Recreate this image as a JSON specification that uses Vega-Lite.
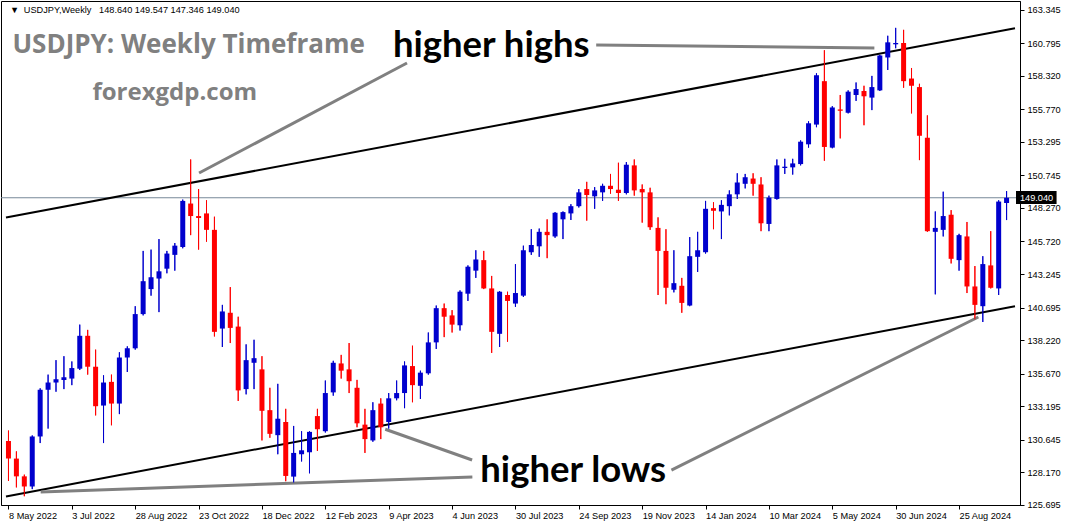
{
"$schema": "https://vega.github.io/schema/vega-lite/v6.json",
"width": 1019, "height": 504,
"autosize": {"type": "none"},
"padding": {"left": 1, "top": 1, "right": 45, "bottom": 23},
"background": "#ffffff",
"config": {
  "view": {"stroke": "#000000", "strokeWidth": 1},
  "axis": {"domainColor": "#000000", "tickColor": "#000000", "labelColor": "#000000", "labelFont": "Liberation Sans", "labelFontSize": 9.2, "grid": false, "tickSize": 4}
},
"resolve": {"axis": {"x": "independent", "y": "independent"}},
"datasets": {
  "candles": [
{"i":0,"o":130.56,"h":131.35,"l":127.52,"c":129.22},
{"i":1,"o":129.22,"h":129.77,"l":127.03,"c":127.87},
{"i":2,"o":127.87,"h":128.0,"l":126.36,"c":127.1},
{"i":3,"o":127.1,"h":130.98,"l":126.9,"c":130.9},
{"i":4,"o":130.9,"h":134.56,"l":130.4,"c":134.45},
{"i":5,"o":134.45,"h":135.6,"l":131.5,"c":135.0},
{"i":6,"o":135.0,"h":136.7,"l":134.3,"c":135.25},
{"i":7,"o":135.2,"h":137.0,"l":134.5,"c":135.4},
{"i":8,"o":135.3,"h":136.6,"l":134.8,"c":136.1},
{"i":9,"o":136.05,"h":139.4,"l":135.95,"c":138.55},
{"i":10,"o":138.55,"h":139.0,"l":135.6,"c":136.2},
{"i":11,"o":136.2,"h":137.5,"l":132.5,"c":133.2},
{"i":12,"o":133.25,"h":135.55,"l":130.4,"c":135.0},
{"i":13,"o":135.05,"h":135.6,"l":131.75,"c":133.4},
{"i":14,"o":133.4,"h":137.3,"l":132.6,"c":136.9},
{"i":15,"o":136.9,"h":137.75,"l":135.8,"c":137.6},
{"i":16,"o":137.6,"h":140.8,"l":137.5,"c":140.2},
{"i":17,"o":140.2,"h":145.0,"l":140.1,"c":142.7},
{"i":18,"o":142.1,"h":145.1,"l":141.6,"c":143.0},
{"i":19,"o":142.9,"h":145.9,"l":140.35,"c":143.45},
{"i":20,"o":143.65,"h":145.0,"l":143.3,"c":144.8},
{"i":21,"o":144.7,"h":145.6,"l":143.5,"c":145.4},
{"i":22,"o":145.3,"h":148.9,"l":145.2,"c":148.8},
{"i":23,"o":148.6,"h":151.95,"l":146.2,"c":147.65},
{"i":24,"o":147.65,"h":149.7,"l":145.1,"c":147.5},
{"i":25,"o":147.85,"h":148.85,"l":145.7,"c":146.6},
{"i":26,"o":146.6,"h":147.6,"l":138.5,"c":138.85},
{"i":27,"o":139.1,"h":140.9,"l":137.7,"c":140.4},
{"i":28,"o":140.3,"h":142.25,"l":138.0,"c":139.15},
{"i":29,"o":139.25,"h":140.0,"l":133.6,"c":134.4},
{"i":30,"o":134.5,"h":137.9,"l":134.1,"c":136.7},
{"i":31,"o":136.5,"h":138.25,"l":134.5,"c":136.85},
{"i":32,"o":136.0,"h":137.0,"l":130.6,"c":132.85},
{"i":33,"o":132.9,"h":134.6,"l":130.8,"c":131.1},
{"i":34,"o":131.0,"h":134.9,"l":129.55,"c":132.25},
{"i":35,"o":132.0,"h":133.0,"l":127.5,"c":127.9},
{"i":36,"o":127.85,"h":131.7,"l":127.4,"c":129.65},
{"i":37,"o":129.55,"h":131.3,"l":129.0,"c":129.85},
{"i":38,"o":129.7,"h":131.3,"l":128.1,"c":131.25},
{"i":39,"o":132.45,"h":133.0,"l":129.8,"c":131.45},
{"i":40,"o":131.3,"h":135.15,"l":131.2,"c":134.2},
{"i":41,"o":134.25,"h":136.65,"l":134.0,"c":136.5},
{"i":42,"o":136.45,"h":137.1,"l":135.3,"c":135.9},
{"i":43,"o":136.0,"h":138.0,"l":134.2,"c":135.1},
{"i":44,"o":134.6,"h":135.2,"l":131.6,"c":131.9},
{"i":45,"o":131.8,"h":133.0,"l":129.65,"c":130.7},
{"i":46,"o":130.6,"h":133.5,"l":130.5,"c":132.9},
{"i":47,"o":133.4,"h":133.8,"l":130.7,"c":131.6},
{"i":48,"o":132.0,"h":134.2,"l":131.5,"c":133.8},
{"i":49,"o":133.8,"h":135.15,"l":133.65,"c":134.2},
{"i":50,"o":134.2,"h":136.6,"l":133.05,"c":136.3},
{"i":51,"o":136.25,"h":137.8,"l":133.5,"c":134.8},
{"i":52,"o":134.75,"h":135.9,"l":133.75,"c":135.75},
{"i":53,"o":135.7,"h":138.8,"l":135.6,"c":138.05},
{"i":54,"o":138.05,"h":140.85,"l":137.55,"c":140.65},
{"i":55,"o":140.65,"h":141.0,"l":138.45,"c":140.0},
{"i":56,"o":140.1,"h":140.5,"l":138.8,"c":139.4},
{"i":57,"o":139.35,"h":142.0,"l":138.95,"c":141.9},
{"i":58,"o":141.75,"h":143.9,"l":141.2,"c":143.8},
{"i":59,"o":143.5,"h":145.05,"l":142.95,"c":144.35},
{"i":60,"o":144.3,"h":145.0,"l":142.1,"c":142.15},
{"i":61,"o":142.15,"h":143.1,"l":137.25,"c":138.85},
{"i":62,"o":138.7,"h":141.95,"l":137.7,"c":141.9},
{"i":63,"o":141.65,"h":141.9,"l":138.1,"c":141.2},
{"i":64,"o":141.0,"h":144.0,"l":140.75,"c":141.8},
{"i":65,"o":141.6,"h":145.4,"l":141.5,"c":145.05},
{"i":66,"o":144.9,"h":146.65,"l":144.7,"c":145.45},
{"i":67,"o":145.35,"h":146.7,"l":144.55,"c":146.45},
{"i":68,"o":146.45,"h":147.4,"l":144.45,"c":146.2},
{"i":69,"o":146.1,"h":147.95,"l":146.0,"c":147.9},
{"i":70,"o":147.4,"h":148.0,"l":145.9,"c":147.95},
{"i":71,"o":147.85,"h":148.55,"l":147.35,"c":148.4},
{"i":72,"o":148.4,"h":149.7,"l":148.3,"c":149.45},
{"i":73,"o":149.7,"h":150.25,"l":147.3,"c":149.25},
{"i":74,"o":149.15,"h":149.85,"l":148.2,"c":149.6},
{"i":75,"o":149.45,"h":150.1,"l":148.8,"c":149.95},
{"i":76,"o":149.95,"h":150.85,"l":149.35,"c":149.7},
{"i":77,"o":149.65,"h":151.7,"l":148.8,"c":149.4},
{"i":78,"o":149.4,"h":151.75,"l":149.3,"c":151.55},
{"i":79,"o":151.5,"h":151.95,"l":149.2,"c":149.6},
{"i":80,"o":149.7,"h":150.05,"l":147.15,"c":149.45},
{"i":81,"o":149.45,"h":149.8,"l":146.6,"c":146.8},
{"i":82,"o":146.75,"h":147.55,"l":141.65,"c":145.0},
{"i":83,"o":145.0,"h":146.65,"l":140.95,"c":142.2},
{"i":84,"o":142.05,"h":145.05,"l":141.85,"c":142.55},
{"i":85,"o":142.35,"h":142.95,"l":140.3,"c":141.05},
{"i":86,"o":140.85,"h":146.05,"l":140.8,"c":144.6},
{"i":87,"o":144.55,"h":146.45,"l":143.4,"c":145.05},
{"i":88,"o":144.9,"h":148.8,"l":144.8,"c":148.2},
{"i":89,"o":148.25,"h":148.7,"l":146.65,"c":148.05},
{"i":90,"o":148.0,"h":148.85,"l":145.9,"c":148.5},
{"i":91,"o":148.4,"h":149.6,"l":147.7,"c":149.3},
{"i":92,"o":149.3,"h":150.9,"l":148.95,"c":150.2},
{"i":93,"o":150.1,"h":150.85,"l":149.75,"c":150.6},
{"i":94,"o":150.5,"h":150.9,"l":149.2,"c":150.1},
{"i":95,"o":150.05,"h":150.6,"l":146.5,"c":147.1},
{"i":96,"o":147.05,"h":149.2,"l":146.5,"c":149.05},
{"i":97,"o":148.95,"h":151.95,"l":148.9,"c":151.5},
{"i":98,"o":151.3,"h":152.0,"l":150.85,"c":151.4},
{"i":99,"o":151.35,"h":152.0,"l":150.8,"c":151.65},
{"i":100,"o":151.6,"h":153.4,"l":151.5,"c":153.3},
{"i":101,"o":153.1,"h":154.85,"l":152.85,"c":154.7},
{"i":102,"o":154.6,"h":158.5,"l":154.4,"c":158.35},
{"i":103,"o":157.9,"h":160.25,"l":151.85,"c":152.9},
{"i":104,"o":152.85,"h":156.0,"l":152.8,"c":155.9},
{"i":105,"o":155.75,"h":156.85,"l":153.55,"c":155.65},
{"i":106,"o":155.5,"h":157.2,"l":155.45,"c":157.1},
{"i":107,"o":156.85,"h":157.8,"l":156.4,"c":157.3},
{"i":108,"o":157.15,"h":157.55,"l":154.55,"c":156.75},
{"i":109,"o":156.65,"h":158.3,"l":155.7,"c":157.45},
{"i":110,"o":157.2,"h":159.9,"l":157.15,"c":159.85},
{"i":111,"o":159.7,"h":161.35,"l":158.75,"c":160.85},
{"i":112,"o":160.7,"h":161.95,"l":160.4,"c":160.8},
{"i":113,"o":160.8,"h":161.8,"l":157.4,"c":157.9},
{"i":114,"o":158.1,"h":158.9,"l":155.45,"c":157.55},
{"i":115,"o":157.45,"h":157.7,"l":151.9,"c":153.75},
{"i":116,"o":153.6,"h":155.3,"l":146.45,"c":146.5},
{"i":117,"o":146.45,"h":148.0,"l":141.7,"c":146.75},
{"i":118,"o":146.6,"h":149.5,"l":146.1,"c":147.65},
{"i":119,"o":147.75,"h":148.1,"l":144.05,"c":144.4},
{"i":120,"o":144.3,"h":146.3,"l":143.5,"c":146.2},
{"i":121,"o":146.1,"h":147.2,"l":141.8,"c":142.3},
{"i":122,"o":142.3,"h":143.85,"l":139.8,"c":140.9},
{"i":123,"o":140.8,"h":144.6,"l":139.6,"c":144.0},
{"i":124,"o":143.9,"h":146.5,"l":142.15,"c":142.2},
{"i":125,"o":142.15,"h":148.85,"l":141.65,"c":148.75},
{"i":126,"o":148.64,"h":149.547,"l":147.346,"c":149.04}
  ],
  "channels": [
    {"x": -0.3125, "y": 147.54, "x2": 127.0625, "y2": 161.916},
    {"x": -0.3125, "y": 126.339, "x2": 127.0625, "y2": 140.80}
  ],
  "pointers": [
    {"x": 74.19, "y": 160.647, "x2": 109.31, "y2": 160.42},
    {"x": 24.06, "y": 150.92, "x2": 50.31, "y2": 159.28},
    {"x": 47.56, "y": 131.45, "x2": 58.53, "y2": 129.11},
    {"x": 4.06, "y": 126.68, "x2": 58.56, "y2": 127.82},
    {"x": 83.69, "y": 128.35, "x2": 122.44, "y2": 139.98}
  ]
},
"layer": [
  {
    "data": {"name": "candles"},
    "mark": {"type": "rule", "strokeWidth": 1},
    "encoding": {
      "x": {"field": "i", "type": "quantitative", "scale": {"domain": [-0.3125, 127.0625], "nice": false, "zero": false},
        "axis": {"orient": "bottom", "title": null, "values": [0,8,16,24,32,40,48,56,64,72,80,88,96,104,112,120],
          "labelExpr": "['8 May 2022','3 Jul 2022','28 Aug 2022','23 Oct 2022','18 Dec 2022','12 Feb 2023','9 Apr 2023','4 Jun 2023','30 Jul 2023','24 Sep 2023','19 Nov 2023','14 Jan 2024','10 Mar 2024','5 May 2024','30 Jun 2024','25 Aug 2024'][round(datum.value/8)]",
          "labelAlign": "left", "labelBaseline": "top", "labelPadding": 2, "labelFlush": false, "labelOverlap": false}},
      "y": {"field": "l", "type": "quantitative", "scale": {"domain": [125.693, 163.991], "nice": false, "zero": false},
        "axis": {"orient": "right", "title": null, "values": [125.695,128.17,130.645,133.195,135.67,138.22,140.695,143.245,145.72,148.27,150.745,153.295,155.77,158.32,160.795,163.345],
          "format": ".3f", "labelPadding": 3, "labelBaseline": "middle", "labelFlush": false, "labelOverlap": false}},
      "y2": {"field": "h"},
      "color": {"condition": {"test": "datum.c >= datum.o", "value": "#0000CD"}, "value": "#FF0000"}
    }
  },
  {
    "data": {"values": [{"p": 149.04}]},
    "mark": {"type": "rule", "color": "#778899", "strokeWidth": 1},
    "encoding": {"y": {"field": "p", "type": "quantitative", "axis": null}}
  },
  {
    "data": {"name": "channels"},
    "mark": {"type": "rule", "color": "#000000", "strokeWidth": 2, "clip": true},
    "encoding": {
      "x": {"field": "x", "type": "quantitative", "axis": null},
      "y": {"field": "y", "type": "quantitative", "axis": null},
      "x2": {"field": "x2"}, "y2": {"field": "y2"}
    }
  },
  {
    "data": {"name": "pointers"},
    "mark": {"type": "rule", "color": "#808080", "strokeWidth": 3},
    "encoding": {
      "x": {"field": "x", "type": "quantitative", "axis": null},
      "y": {"field": "y", "type": "quantitative", "axis": null},
      "x2": {"field": "x2"}, "y2": {"field": "y2"}
    }
  },
  {
    "data": {"name": "candles"},
    "mark": {"type": "rule", "strokeWidth": 1},
    "encoding": {
      "x": {"field": "i", "type": "quantitative", "axis": null},
      "y": {"field": "l", "type": "quantitative", "axis": null},
      "y2": {"field": "h"},
      "color": {"condition": {"test": "datum.c >= datum.o", "value": "#0000CD"}, "value": "#FF0000"}
    }
  },
  {
    "data": {"name": "candles"},
    "mark": {"type": "bar", "size": 5},
    "encoding": {
      "x": {"field": "i", "type": "quantitative", "axis": null},
      "y": {"field": "o", "type": "quantitative", "axis": null},
      "y2": {"field": "c"},
      "color": {"condition": {"test": "datum.c >= datum.o", "value": "#0000CD"}, "value": "#FF0000"}
    }
  },
  {
    "data": {"values": [{"x": 0.5, "y": 160.04, "t": "USDJPY: Weekly Timeframe"}]},
    "mark": {"type": "text", "font": "Open Sans", "fontWeight": "bold", "fontSize": 26, "color": "#808080", "align": "left", "baseline": "alphabetic"},
    "encoding": {"x": {"field": "x", "type": "quantitative", "axis": null}, "y": {"field": "y", "type": "quantitative", "axis": null}, "text": {"field": "t"}}
  },
  {
    "data": {"values": [{"x": 10.6, "y": 156.47, "t": "forexgdp.com"}]},
    "mark": {"type": "text", "font": "Open Sans", "fontWeight": "bold", "fontSize": 24, "color": "#808080", "align": "left", "baseline": "alphabetic"},
    "encoding": {"x": {"field": "x", "type": "quantitative", "axis": null}, "y": {"field": "y", "type": "quantitative", "axis": null}, "text": {"field": "t"}}
  },
  {
    "data": {"values": [{"x": 48.53, "y": 159.76, "t": "higher highs"}, {"x": 59.56, "y": 127.46, "t": "higher lows"}]},
    "mark": {"type": "text", "font": "Lato", "fontWeight": "bold", "fontSize": 36.5, "color": "#000000", "align": "left", "baseline": "alphabetic"},
    "encoding": {"x": {"field": "x", "type": "quantitative", "axis": null}, "y": {"field": "y", "type": "quantitative", "axis": null}, "text": {"field": "t"}}
  },
  {
    "data": {"values": [{"x": 0.19, "y": 163.06, "t": "▼"}, {"x": 1.94, "y": 163.06, "t": "USDJPY,Weekly"}, {"x": 11.44, "y": 163.06, "t": "148.640 149.547 147.346 149.040"}]},
    "mark": {"type": "text", "font": "Liberation Sans", "fontSize": 9.2, "color": "#000000", "align": "left", "baseline": "alphabetic"},
    "encoding": {"x": {"field": "x", "type": "quantitative", "axis": null}, "y": {"field": "y", "type": "quantitative", "axis": null}, "text": {"field": "t"}}
  },
  {
    "data": {"values": [{"x": 127.19, "x2": 132.31, "y": 149.553, "y2": 148.565}]},
    "mark": {"type": "rect", "color": "#000000", "clip": false},
    "encoding": {"x": {"field": "x", "type": "quantitative", "axis": null}, "x2": {"field": "x2"}, "y": {"field": "y", "type": "quantitative", "axis": null}, "y2": {"field": "y2"}}
  },
  {
    "data": {"values": [{"x": 127.69, "y": 149.04, "t": "149.040"}]},
    "mark": {"type": "text", "font": "Liberation Sans", "fontSize": 9.2, "color": "#ffffff", "align": "left", "baseline": "middle"},
    "encoding": {"x": {"field": "x", "type": "quantitative", "axis": null}, "y": {"field": "y", "type": "quantitative", "axis": null}, "text": {"field": "t"}}
  }
]
}
